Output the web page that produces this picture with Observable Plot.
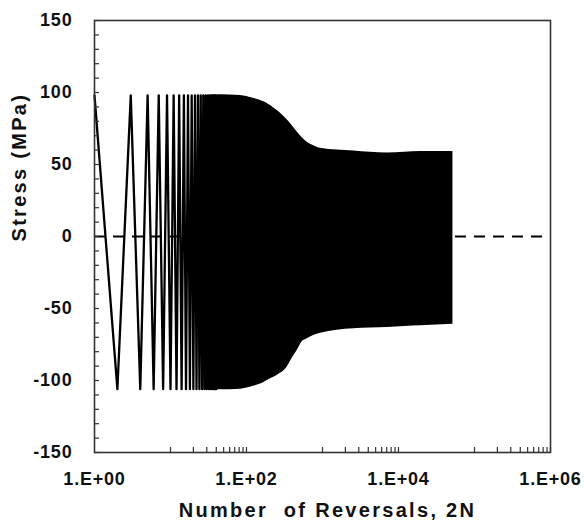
<!DOCTYPE html>
<html>
<head>
<meta charset="utf-8">
<script src="https://cdn.jsdelivr.net/npm/d3@7"></script>
<script src="https://cdn.jsdelivr.net/npm/@observablehq/plot@0.6"></script>
<style>
  html, body { margin: 0; padding: 0; background: #fff; }
  #chart svg text { fill: #111; }
  #chart g[aria-label="x-axis tick label"] text,
  #chart g[aria-label="y-axis tick label"] text { letter-spacing: 0.8px; }
  #chart g.title text { letter-spacing: 2.3px; }
</style>
</head>
<body>
<div id="chart"></div>
<script>
// First reversals of the stress history, drawn one by one (2N = 1 … 40)
const earlyReversals = [1, 2, 3, 4, 5, 6, 7, 8, 9, 10, 11, 12, 13, 14, 15, 16, 17, 18, 19, 20,
  21, 22, 23, 24, 25, 26, 27, 28, 29, 30, 31, 32, 33, 34, 35, 36, 37, 38, 39, 40];
const earlyStress = [98, -106, 98, -106, 98, -106, 98, -106, 98, -106, 98, -106, 98, -106, 98, -106, 98, -106, 98, -106,
  98, -106, 98, -106, 98, -106, 98, -106, 98, -106, 98, -106, 98, -106, 98, -106, 98, -106, 98, -106];

// Peak (tension) and valley (compression) stress of the densely cycled part
const envReversals = [30, 45, 83, 123, 153, 207, 253, 343, 397, 464, 534, 630, 766, 942, 2570, 7100, 12000, 19400, 52000];
const envMax = [98, 98.5, 98, 96, 94.4, 91, 87.5, 81, 77, 72.5, 68.9, 65.5, 63.1, 61.3, 59.3, 57.9, 58.5, 59, 59];
const envMin = [-106, -106.5, -106, -104, -102.5, -98.8, -96.5, -90.7, -84.7, -79.2, -73.4, -71, -68.8, -67.2, -64, -63.2, -62.5, -62, -61];

// Axis ticks and labels
const yTicks = [-150, -100, -50, 0, 50, 100, 150];
const yMinorTicks = [-150, -140, -130, -120, -110, -100, -90, -80, -70, -60, -50, -40, -30, -20, -10, 0,
  10, 20, 30, 40, 50, 60, 70, 80, 90, 100, 110, 120, 130, 140, 150];
const xTicks = [1, 100, 10000, 1000000];
const xTickLabels = ["1.E+00", "1.E+02", "1.E+04", "1.E+06"];
const xMinorTicks = [10, 20, 30, 40, 50, 60, 70, 80, 90, 100,
  1000, 2000, 3000, 4000, 5000, 6000, 7000, 8000, 9000, 10000,
  100000, 200000, 300000, 400000, 500000, 600000, 700000, 800000, 900000, 1000000];
const xTitle = "Number\u00a0 of Reversals, 2N";
const yTitle = "Stress (MPa)";

const W = 584, H = 526;
const mL = 94, mT = 20, mR = 34, mB = 74;
const frameW = W - mL - mR, frameH = H - mT - mB;

const early = earlyReversals.map((n, i) => ({n, s: earlyStress[i]}));
const envelope = envReversals.map((n, i) => ({n, hi: envMax[i], lo: envMin[i]}));

const chart = Plot.plot({
  width: W,
  height: H,
  marginLeft: mL,
  marginTop: mT,
  marginRight: mR,
  marginBottom: mB,
  style: {fontFamily: "'Liberation Sans', Arial, sans-serif", background: "#fff"},
  x: {type: "log", domain: [1, 1e6]},
  y: {domain: [-150, 150]},
  marks: [
    // zero-stress reference line
    Plot.ruleY([0], {stroke: "#000", strokeWidth: 2.2, strokeDasharray: "11,8"}),
    // individual reversals
    Plot.line(early, {x: "n", y: "s", stroke: "#000", strokeWidth: 2.3}),
    // densely cycled region
    Plot.areaY(envelope, {x: "n", y1: "lo", y2: "hi", fill: "#000", curve: "monotone-x"}),
    // inward ticks
    Plot.tickY(yMinorTicks, {y: d => d, stroke: "#333", strokeWidth: 1.2, insetRight: frameW - 5}),
    Plot.tickX(xMinorTicks, {x: d => d, stroke: "#333", strokeWidth: 1.2, insetTop: frameH - 5}),
    Plot.frame({stroke: "#333", strokeWidth: 1.6}),
    Plot.axisY({ticks: yTicks, tickSize: 0, tickPadding: 22, fontSize: 18, fontWeight: "bold", label: null,
      tickFormat: d => String(d)}),
    Plot.axisX({ticks: xTicks, tickSize: 0, tickPadding: 20, fontSize: 18, fontWeight: "bold", label: null,
      tickFormat: d => xTickLabels[xTicks.findIndex(t => Math.abs(t - d) < 1e-6 * t)]}),
    Plot.text([xTitle], {frameAnchor: "bottom", dy: 64, dx: 5, fontSize: 20, fontWeight: "bold", className: "title"}),
    Plot.text([yTitle], {frameAnchor: "left", dx: -75, dy: 5, rotate: -90, fontSize: 20, fontWeight: "bold", className: "title"})
  ]
});
document.getElementById("chart").appendChild(chart);
</script>
</body>
</html>
